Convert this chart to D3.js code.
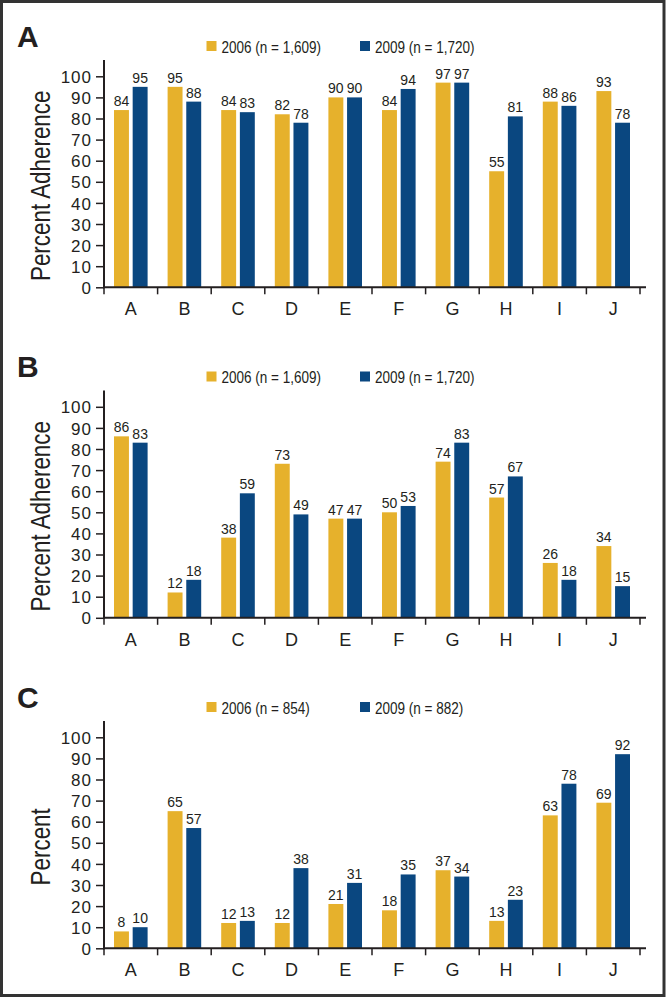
<!DOCTYPE html>
<html>
<head>
<meta charset="utf-8">
<script src="https://cdn.jsdelivr.net/npm/d3@7"></script>
<style>
  html, body { margin: 0; padding: 0; background: #fff; }
  svg { display: block; }
  text { font-family: "Liberation Sans", Arial, sans-serif; fill: #231f20; }
</style>
</head>
<body>
<div id="chart"></div>
<script>
"use strict";

// categories on the x axis (same for all panels)
var categories = ["A", "B", "C", "D", "E", "F", "G", "H", "I", "J"];
var yTicks = [0, 10, 20, 30, 40, 50, 60, 70, 80, 90, 100];

// panel A
var a2006 = [84, 95, 84, 82, 90, 84, 97, 55, 88, 93];
var a2009 = [95, 88, 83, 78, 90, 94, 97, 81, 86, 78];
// panel B
var b2006 = [86, 12, 38, 73, 47, 50, 74, 57, 26, 34];
var b2009 = [83, 18, 59, 49, 47, 53, 83, 67, 18, 15];
// panel C
var c2006 = [8, 65, 12, 12, 21, 18, 37, 13, 63, 69];
var c2009 = [10, 57, 13, 38, 31, 35, 34, 23, 78, 92];

var panelLetters = ["A", "B", "C"];
var panelTitles = ["Percent Adherence", "Percent Adherence", "Percent"];
var legendAB = ["2006 (n = 1,609)", "2009 (n = 1,720)"];
var legendC = ["2006 (n = 854)", "2009 (n = 882)"];
var years = ["2006", "2009"];

var colors = { "2006": "#e6b12c", "2009": "#0a4780" };

var W = 666, H = 998;
var svg = d3.select("#chart").append("svg")
  .attr("width", W)
  .attr("height", H);

// outer frame
svg.append("rect")
  .attr("x", 1.5).attr("y", 1.5)
  .attr("width", W - 3.5).attr("height", H - 4)
  .attr("fill", "none")
  .attr("stroke", "#333")
  .attr("stroke-width", 3);

var panels = [
  { letter: panelLetters[0], title: panelTitles[0], legend: legendAB, s2006: a2006, s2009: a2009 },
  { letter: panelLetters[1], title: panelTitles[1], legend: legendAB, s2006: b2006, s2009: b2009 },
  { letter: panelLetters[2], title: panelTitles[2], legend: legendC, s2006: c2006, s2009: c2009 }
];

var x = d3.scaleBand().domain(categories).range([104, 640]).padding(0);
var xInner = d3.scaleBand().domain(years).range([10, 43.6]).paddingInner(0.2);

// the original uses a condensed face; squeeze text horizontally
var squeeze = 0.83;

function drawPanel(p, i) {
  var o = i * 330.5;
  var g = svg.append("g").attr("transform", "translate(0," + o + ")");
  var y = d3.scaleLinear().domain([0, 100]).range([287.3, 76.3]);

  // panel letter
  g.append("text")
    .attr("x", 17).attr("y", 46.5)
    .style("font-weight", "bold")
    .style("font-size", "30px")
    .text(p.letter);

  // legend
  var legendX = [206.5, 360];
  years.forEach(function (yr, k) {
    g.append("rect")
      .attr("x", legendX[k]).attr("y", 41)
      .attr("width", 10).attr("height", 10)
      .attr("fill", colors[yr]);
    g.append("text")
      .attr("transform", "translate(" + (legendX[k] + 15) + ",52.5) scale(" + squeeze + ",1)")
      .style("font-size", "16.3px")
      .text(p.legend[k]);
  });

  // y axis title
  g.append("text")
    .attr("transform", "translate(49.5," + (y(50) + 4) + ") rotate(-90) scale(" + squeeze + ",1)")
    .attr("text-anchor", "middle")
    .style("font-size", "27px")
    .text(p.title);

  // y axis
  var yAxis = g.append("g")
    .attr("transform", "translate(104,0)")
    .call(d3.axisLeft(y).tickValues(yTicks).tickSize(8).tickPadding(4).tickSizeOuter(0));
  yAxis.select(".domain").remove();
  yAxis.selectAll(".tick line").attr("stroke", "#231f20").attr("stroke-width", 1.5);
  yAxis.selectAll(".tick text")
    .style("font-size", "17px")
    .style("letter-spacing", "1px")
    .attr("dy", "0.36em")
    .attr("fill", "#231f20")
    .style("font-family", "'Liberation Sans', Arial, sans-serif");
  g.append("line")
    .attr("x1", 104).attr("x2", 104)
    .attr("y1", 60).attr("y2", y(0) + 1)
    .attr("stroke", "#231f20").attr("stroke-width", 2);

  // bars
  years.forEach(function (yr) {
    var vals = yr === "2006" ? p.s2006 : p.s2009;
    var bars = g.append("g").selectAll("g")
      .data(categories.map(function (c, j) { return { cat: c, v: vals[j] }; }))
      .join("g");
    bars.append("rect")
      .attr("x", function (d) { return x(d.cat) + xInner(yr); })
      .attr("y", function (d) { return y(d.v); })
      .attr("width", xInner.bandwidth())
      .attr("height", function (d) { return y(0) - y(d.v); })
      .attr("fill", colors[yr]);
    bars.append("text")
      .attr("x", function (d) { return x(d.cat) + xInner(yr) + xInner.bandwidth() / 2; })
      .attr("y", function (d) { return y(d.v) - 4; })
      .attr("text-anchor", "middle")
      .style("font-size", "14px")
      .text(function (d) { return d.v; });
  });

  // x axis line and boundary ticks
  g.append("line")
    .attr("x1", 103).attr("x2", 646)
    .attr("y1", y(0)).attr("y2", y(0))
    .attr("stroke", "#231f20").attr("stroke-width", 2);
  var bounds = categories.map(function (c) { return x(c); }).concat([x.range()[1]]);
  g.append("g").selectAll("line")
    .data(bounds)
    .join("line")
    .attr("x1", function (d) { return d; }).attr("x2", function (d) { return d; })
    .attr("y1", y(0)).attr("y2", y(0) + 7)
    .attr("stroke", "#231f20").attr("stroke-width", 1.5);
  var xAxis = g.append("g")
    .attr("transform", "translate(0," + y(0) + ")")
    .call(d3.axisBottom(x).tickSize(0).tickPadding(15));
  xAxis.select(".domain").remove();
  xAxis.selectAll(".tick text")
    .style("font-size", "18px")
    .attr("fill", "#231f20")
    .style("font-family", "'Liberation Sans', Arial, sans-serif");
}

panels.forEach(drawPanel);
</script>
</body>
</html>
